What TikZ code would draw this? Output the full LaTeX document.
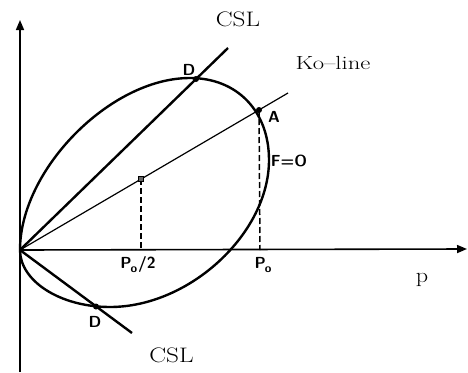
\documentclass[tikz,border=0pt]{standalone}
\usepackage{fontspec}
\usepackage{graphicx}
\usetikzlibrary{arrows.meta}
\newcommand{\psub}{\raisebox{-4pt}{\fontsize{12}{13}\selectfont o}}
\tikzset{
  axis/.style={line width=1.6pt,-{Triangle[length=10pt,width=8pt]}},
  thickline/.style={line width=2.4pt},
  thinline/.style={line width=1.2pt},
  dashline/.style={line width=1.5pt,dash pattern=on 6pt off 3pt},
  serif/.style={font=\fontsize{21}{23}\selectfont},
  plot/.style={font=\sffamily\bfseries\fontsize{16}{17}\selectfont},
  pt/.style={circle,fill,inner sep=0pt,minimum size=6pt},
}
\begin{document}
\begin{tikzpicture}[x=1pt,y=-1pt]
\useasboundingbox (0,0) rectangle (468,372);
\coordinate (O) at (20,250);
\coordinate (ytop) at (20,20);
\coordinate (ybot) at (20,372);
\coordinate (xend) at (467,249);
\coordinate (Dt) at (196,79);
\coordinate (A) at (259,110);
\coordinate (C) at (141,179);
\coordinate (Db) at (96,306.5);
\coordinate (cslt) at (228,48);
\coordinate (csbl) at (132,333);
\coordinate (koe) at (288,93);
\coordinate (Ch) at (141,250);
\coordinate (Ah) at (260,250);
\coordinate (Etop) at (190,78);
\coordinate (Eright) at (269,160);
\coordinate (Ebot) at (110,307);
% axes
\draw[axis] (ybot) -- (ytop);
\draw[axis] (O) -- (xend);
% ellipse
\draw[thickline] (O) .. controls (20,170) and (110,78) .. (Etop)
  .. controls (237,78) and (269,111) .. (Eright)
  .. controls (269,233) and (190,307) .. (Ebot)
  .. controls (60,307) and (20,281) .. (O) -- cycle;
% lines
\draw[thickline] (O) -- (cslt);
\draw[thickline] (O) -- (csbl);
\draw[thinline] (O) -- (koe);
\draw[dashline] (C) -- (Ch);
\draw[dashline] (A) -- (Ah);
% points
\node[pt] (nDt) at (Dt) {};
\node[pt] (nA) at (A) {};
\node[pt] (nDb) at (Db) {};
\node[draw,fill=black!60,inner sep=0pt,minimum size=5pt,line width=1pt] (nC) at (C) {};
% labels
\node[serif] (lcslt) at (238,19) {\scalebox{1.2}[1]{CSL}};
\node[serif] (lcslb) at (171.5,355) {\scalebox{1.2}[1]{CSL}};
\node[font=\fontsize{19}{21}\selectfont] (lko) at (333,63) {\scalebox{1.3}[1]{Ko--line}};
\node[serif] (lp) at (422,280) {\scalebox{1.15}[1]{p}};
\node[plot] (lDt) at (189,70) {D};
\node[plot] (lA) at (274,117) {A};
\node[plot] (lF) at (289,161) {F=O};
\node[plot] (lP2) at (138,265) {P\kern-1pt\psub\kern1pt/2};
\node[plot] (lP) at (263,265) {P\kern-1pt\psub};
\node[plot] (lDb) at (95,322) {D};
\end{tikzpicture}
\end{document}
